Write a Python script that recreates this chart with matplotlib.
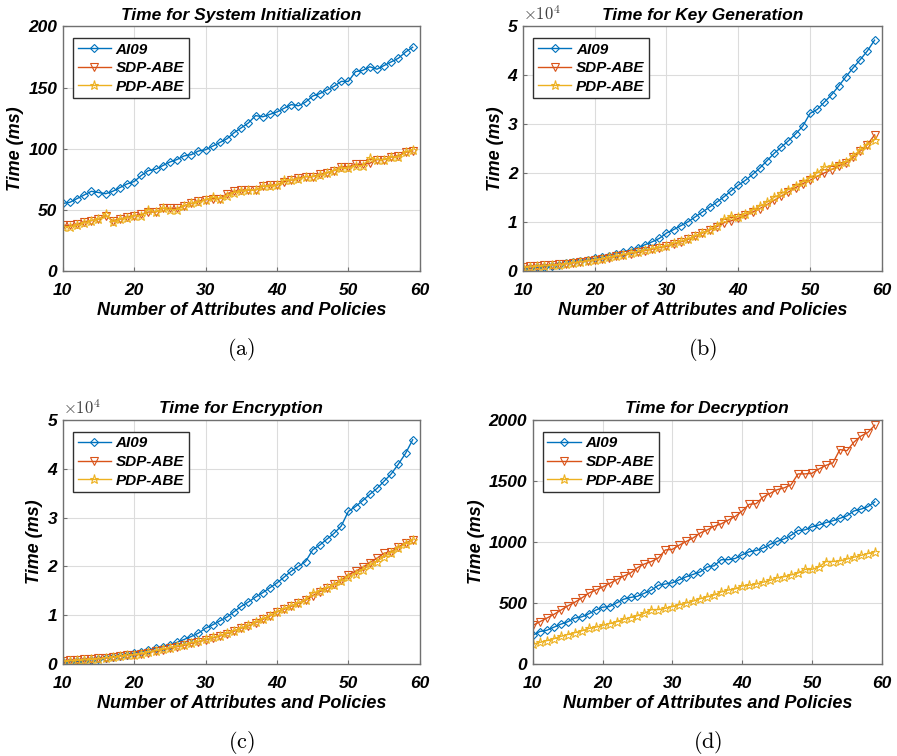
import numpy as np
import matplotlib.pyplot as plt

# x axis: number of attributes and policies
n = np.arange(10, 60)

# (a) system initialization (ms)
init_ai09 = [55, 56, 59, 62, 65, 64, 63, 65, 68, 71, 73, 78, 82, 83, 86, 89, 91, 94, 95, 98,
             99, 102, 105, 108, 113, 117, 121, 127, 126, 128, 130, 133, 136, 135, 138, 143, 145, 148, 151, 155,
             155, 163, 164, 167, 165, 168, 171, 174, 179, 183]
init_sdp = [37, 37, 38, 40, 41, 42, 45, 41, 42, 44, 45, 46, 48, 48, 51, 51, 51, 53, 55, 57,
            58, 59, 59, 63, 65, 66, 66, 66, 69, 70, 70, 73, 74, 76, 77, 77, 79, 80, 82, 85,
            85, 87, 87, 88, 91, 91, 93, 94, 97, 98]
init_pdp = [36, 36, 37, 39, 41, 42, 46, 40, 42, 43, 45, 45, 50, 48, 51, 50, 50, 53, 55, 56,
            58, 60, 59, 61, 64, 65, 66, 66, 69, 69, 70, 74, 74, 75, 77, 77, 78, 80, 82, 84,
            84, 86, 86, 92, 91, 91, 93, 93, 97, 99]

# (b) key generation (x1e4 ms)
key_ai09 = [0.03, 0.05, 0.07, 0.08, 0.10, 0.12, 0.15, 0.17, 0.20, 0.22, 0.25, 0.28, 0.31, 0.35, 0.39, 0.42, 0.47, 0.53, 0.59, 0.66,
            0.77, 0.84, 0.92, 1.00, 1.10, 1.20, 1.30, 1.40, 1.51, 1.63, 1.75, 1.85, 1.97, 2.10, 2.25, 2.40, 2.53, 2.66, 2.80, 2.96,
            3.22, 3.30, 3.45, 3.60, 3.78, 3.97, 4.15, 4.32, 4.50, 4.72]
key_sdp = [0.08, 0.09, 0.10, 0.11, 0.12, 0.13, 0.14, 0.16, 0.18, 0.20, 0.22, 0.24, 0.26, 0.29, 0.32, 0.35, 0.38, 0.41, 0.44, 0.47,
           0.50, 0.54, 0.59, 0.64, 0.70, 0.77, 0.83, 0.90, 0.98, 1.02, 1.07, 1.13, 1.20, 1.27, 1.35, 1.44, 1.53, 1.61, 1.70, 1.78,
           1.85, 1.93, 2.00, 2.07, 2.15, 2.20, 2.32, 2.45, 2.58, 2.78]
key_pdp = [0.07, 0.08, 0.09, 0.10, 0.11, 0.12, 0.14, 0.16, 0.18, 0.20, 0.22, 0.24, 0.27, 0.30, 0.33, 0.36, 0.39, 0.42, 0.45, 0.48,
           0.51, 0.56, 0.60, 0.65, 0.71, 0.77, 0.84, 0.92, 1.05, 1.12, 1.10, 1.17, 1.24, 1.32, 1.40, 1.50, 1.58, 1.66, 1.74, 1.82,
           1.90, 2.00, 2.12, 2.15, 2.18, 2.22, 2.35, 2.47, 2.58, 2.68]

# (c) encryption (x1e4 ms)
enc_ai09 = [0.03, 0.04, 0.05, 0.06, 0.08, 0.10, 0.12, 0.14, 0.16, 0.19, 0.22, 0.25, 0.28, 0.32, 0.35, 0.39, 0.44, 0.50, 0.56, 0.63,
            0.73, 0.80, 0.88, 0.96, 1.07, 1.18, 1.27, 1.37, 1.46, 1.56, 1.66, 1.78, 1.90, 2.00, 2.10, 2.34, 2.44, 2.56, 2.68, 2.83,
            3.13, 3.23, 3.35, 3.48, 3.60, 3.75, 3.90, 4.10, 4.32, 4.60]
enc_sdp = [0.06, 0.07, 0.08, 0.09, 0.10, 0.11, 0.12, 0.14, 0.16, 0.17, 0.18, 0.20, 0.23, 0.26, 0.29, 0.32, 0.35, 0.38, 0.42, 0.45,
           0.49, 0.53, 0.57, 0.62, 0.67, 0.73, 0.78, 0.84, 0.91, 0.98, 1.07, 1.12, 1.18, 1.24, 1.30, 1.40, 1.48, 1.55, 1.63, 1.72,
           1.83, 1.90, 1.98, 2.08, 2.17, 2.27, 2.30, 2.40, 2.48, 2.55]
enc_pdp = [0.05, 0.06, 0.07, 0.08, 0.09, 0.10, 0.12, 0.13, 0.15, 0.17, 0.19, 0.21, 0.24, 0.27, 0.30, 0.33, 0.36, 0.39, 0.43, 0.46,
           0.50, 0.54, 0.58, 0.63, 0.68, 0.73, 0.79, 0.85, 0.92, 0.99, 1.06, 1.13, 1.19, 1.25, 1.31, 1.45, 1.50, 1.56, 1.62, 1.70,
           1.78, 1.85, 1.93, 2.02, 2.10, 2.20, 2.28, 2.38, 2.46, 2.54]

# (d) decryption (ms)
dec_ai09 = [235, 265, 275, 300, 325, 345, 375, 385, 410, 440, 465, 470, 500, 530, 545, 555, 580, 605, 645, 655,
            665, 690, 715, 735, 755, 795, 805, 855, 855, 865, 895, 920, 930, 950, 980, 1005, 1025, 1055, 1095, 1100,
            1125, 1140, 1160, 1175, 1195, 1215, 1255, 1270, 1290, 1330]
dec_sdp = [315, 345, 375, 405, 440, 475, 505, 540, 580, 605, 630, 660, 690, 720, 745, 790, 820, 840, 870, 935,
           940, 975, 1005, 1035, 1075, 1100, 1130, 1150, 1180, 1210, 1255, 1310, 1315, 1370, 1400, 1430, 1445, 1470, 1560, 1560,
           1565, 1600, 1630, 1650, 1760, 1750, 1820, 1870, 1900, 1960]
dec_pdp = [160, 175, 190, 205, 225, 240, 255, 270, 290, 300, 315, 330, 345, 365, 380, 395, 415, 445, 445, 455,
           470, 485, 500, 515, 535, 550, 565, 590, 605, 615, 640, 645, 655, 670, 685, 705, 715, 730, 745, 775,
           775, 795, 840, 840, 845, 860, 875, 890, 905, 920]

labels = ['AI09', 'SDP-ABE', 'PDP-ABE']
colors = ['#0072BD', '#D95319', '#EDB120']
markers = ['D', 'v', '*']
msizes = [4.5, 6, 6.5]

panels = [
    ('Time for System Initialization', [init_ai09, init_sdp, init_pdp], (0, 200), [0, 50, 100, 150, 200], False, '(a)'),
    ('Time for Key Generation', [key_ai09, key_sdp, key_pdp], (0, 5), [0, 1, 2, 3, 4, 5], True, '(b)'),
    ('Time for Encryption', [enc_ai09, enc_sdp, enc_pdp], (0, 5), [0, 1, 2, 3, 4, 5], True, '(c)'),
    ('Time for Decryption', [dec_ai09, dec_sdp, dec_pdp], (0, 2000), [0, 500, 1000, 1500, 2000], False, '(d)'),
]

rects = [
    [0.070, 0.642, 0.398, 0.323],
    [0.583, 0.642, 0.400, 0.323],
    [0.070, 0.122, 0.398, 0.322],
    [0.594, 0.122, 0.389, 0.322],
]

plt.rcParams['font.family'] = 'Liberation Sans'
plt.rcParams['mathtext.fontset'] = 'cm'

fig = plt.figure(figsize=(8.97, 7.56), dpi=100)
bi = dict(fontweight='bold', fontstyle='italic')

for rect, (title, series, ylim, yticks, sci, tag) in zip(rects, panels):
    ax = fig.add_axes(rect)
    for s, lab, c, m, ms in zip(series, labels, colors, markers, msizes):
        ax.plot(n, s, color=c, marker=m, markersize=ms,
                mfc='none', mew=0.8, lw=1.0, label=lab)
    ax.set_xlim(10, 60)
    ax.set_ylim(*ylim)
    ax.set_xticks([10, 20, 30, 40, 50, 60])
    ax.set_yticks(yticks)
    ax.grid(True, color='#dcdcdc', lw=0.8)
    ax.set_axisbelow(True)
    for sp in ax.spines.values():
        sp.set_color('#707070')
        sp.set_linewidth(1.0)
    ax.tick_params(direction='in', length=3, color='#707070', labelsize=12.5)
    ax.tick_params(axis='x', pad=9)
    ax.tick_params(axis='y', pad=4)
    for t in ax.get_xticklabels() + ax.get_yticklabels():
        t.set_fontweight('bold')
        t.set_fontstyle('italic')
    ax.set_title(title, fontsize=12.5, pad=5, **bi)
    ax.set_xlabel('Number of Attributes and Policies', fontsize=13, labelpad=3, **bi)
    ax.set_ylabel('Time (ms)', fontsize=13, labelpad=3, **bi)
    if sci:
        ax.text(0.0, 1.015, r'$\times10^4$', transform=ax.transAxes, fontsize=12,
                color='#404040', ha='left', va='bottom')
    leg = ax.legend(loc='upper left', bbox_to_anchor=(0.02, 0.965),
                    prop=dict(family='Liberation Sans', weight='bold', style='italic', size=11),
                    frameon=True, fancybox=False, edgecolor='#303030', framealpha=1,
                    handlelength=2.2, handletextpad=0.3, labelspacing=0.3, borderpad=0.3,
                    borderaxespad=0.2)
    leg.get_frame().set_linewidth(1.0)
    x0, y0, w, h = rect
    fig.text(x0 + w / 2, y0 - 0.104, r'$\mathrm{' + tag + '}$', ha='center', va='center', fontsize=16)

plt.savefig('out.png', dpi=100)
